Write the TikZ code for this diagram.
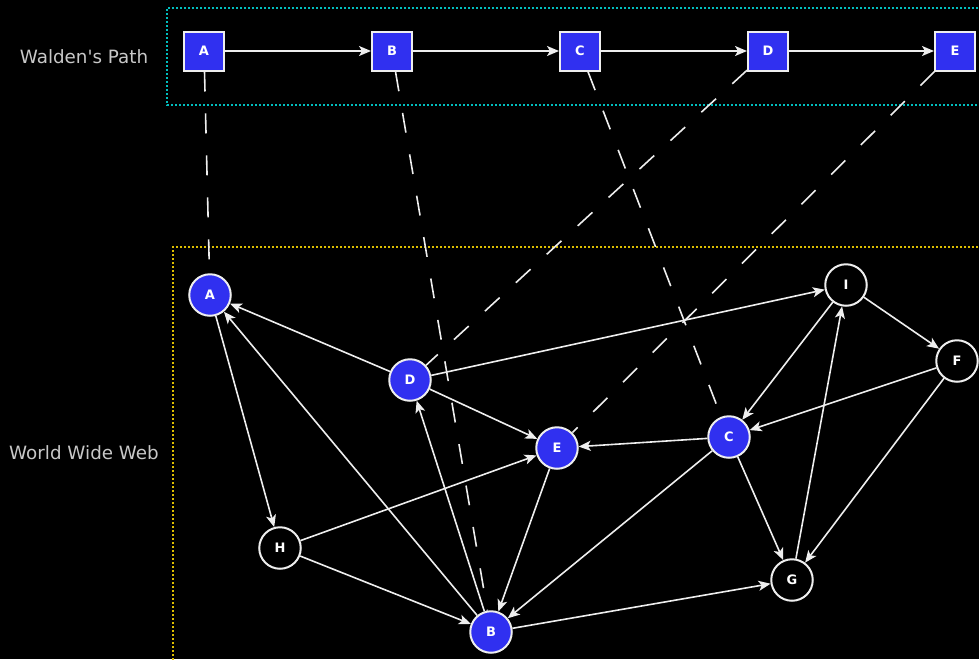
\documentclass[tikz,border=0pt]{standalone}
\usepackage{fontspec}
\setmainfont{DejaVu Sans}[Ligatures=TeXOff]
\usetikzlibrary{arrows.meta}
\definecolor{nodeblue}{RGB}{48,48,240}
\definecolor{linewhite}{RGB}{238,238,238}
\definecolor{labelgray}{RGB}{200,200,200}
\definecolor{boxcyan}{RGB}{0,190,190}
\definecolor{boxyellow}{RGB}{220,190,0}
\tikzset{
  sq/.style={draw=linewhite, line width=2pt, fill=nodeblue, minimum width=40pt, minimum height=39pt, inner sep=0pt, text=white, font=\bfseries\fontsize{13}{13}\selectfont},
  bcirc/.style={circle, draw=linewhite, line width=2pt, fill=nodeblue, minimum size=41.5pt, inner sep=0pt, text=white, font=\bfseries\fontsize{13}{13}\selectfont},
  kcirc/.style={circle, draw=linewhite, line width=2pt, fill=black, minimum size=41.5pt, inner sep=0pt, text=white, font=\bfseries\fontsize{13}{13}\selectfont},
  edge/.style={draw=linewhite, line width=1.6pt, -{Stealth[length=12pt,width=10pt,inset=3pt]}},
  link/.style={draw=linewhite, line width=1.6pt, dash pattern=on 20pt off 22pt},
  grp/.style={line width=2pt, dash pattern=on 2pt off 2pt},
  grplabel/.style={text=labelgray, font=\fontsize{18.3}{19}\selectfont}
}
\begin{document}
\begin{tikzpicture}[x=1pt,y=-1pt]
\fill[black] (0,0) rectangle (979,659);
\useasboundingbox (0,0) rectangle (979,659);
% group boxes
\draw[grp, boxcyan] (990,8) -- (167,8) -- (167,105) -- (990,105);
\draw[grp, boxyellow] (990,247) -- (173,247) -- (173,670);
\node[grplabel] (lw) at (84,57) {Walden's Path};
\node[grplabel] (lg) at (84,453) {World Wide Web};
% web graph nodes
\node[bcirc] (cA) at (210,295) {A};
\node[bcirc] (cD) at (410,380) {D};
\node[bcirc] (cE) at (557,448) {E};
\node[bcirc] (cC) at (729,437) {C};
\node[bcirc] (cB) at (491,632) {B};
\node[kcirc] (cI) at (846,285) {I};
\node[kcirc] (cF) at (957,361) {F};
\node[kcirc] (cH) at (280,548) {H};
\node[kcirc] (cG) at (792,580) {G};
% web edges
\draw[edge] (cD) -- (cA);
\draw[edge] (cB) -- (cA);
\draw[edge] (cA) -- (cH);
\draw[edge] (cD) -- (cI);
\draw[edge] (cD) -- (cE);
\draw[edge] (cB) -- (cD);
\draw[edge] (cH) -- (cE);
\draw[edge] (cH) -- (cB);
\draw[edge] (cE) -- (cB);
\draw[edge] (cC) -- (cE);
\draw[edge] (cC) -- (cB);
\draw[edge] (cC) -- (cG);
\draw[edge] (cI) -- (cC);
\draw[edge] (cI) -- (cF);
\draw[edge] (cF) -- (cC);
\draw[edge] (cF) -- (cG);
\draw[edge] (cG) -- (cI);
\draw[edge] (cB) -- (cG);
% path nodes
\node[sq] (sA) at (204,51) {A};
\node[sq] (sB) at (392,51) {B};
\node[sq] (sC) at (580,51) {C};
\node[sq] (sD) at (768,51) {D};
\node[sq] (sE) at (955,51) {E};
\draw[edge] (sA) -- (sB);
\draw[edge] (sB) -- (sC);
\draw[edge] (sC) -- (sD);
\draw[edge] (sD) -- (sE);
% dashed links
\draw[link] (sA) -- (cA);
\draw[link] (sB) -- (cB);
\draw[link] (sC) -- (cC);
\draw[link] (sD) -- (cD);
\draw[link] (sE) -- (cE);
\end{tikzpicture}
\end{document}
